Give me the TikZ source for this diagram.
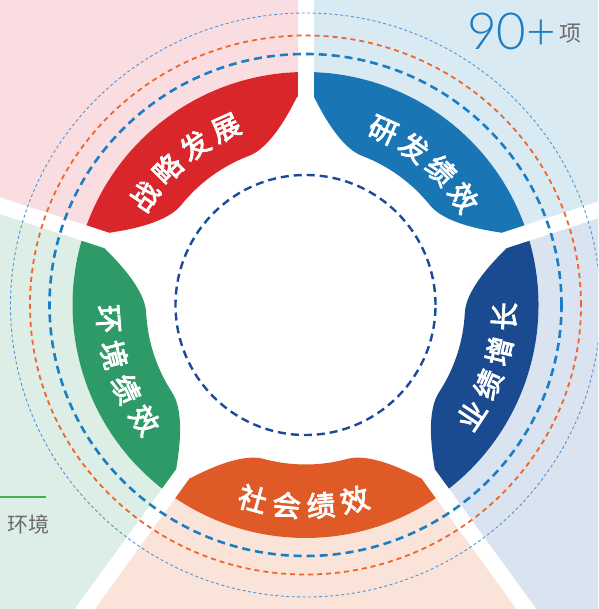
\documentclass[tikz,border=0pt]{standalone}
\usepackage{fontspec}
\newfontfamily\cjk{Noto Sans CJK SC}
\newfontfamily\cjkb{Noto Sans CJK SC}[FakeBold=3]
\newfontfamily\numfont{Lato}[UprightFont={* Light}]
\definecolor{cRed}{HTML}{D9262B}
\definecolor{cBlue}{HTML}{1A75B4}
\definecolor{cNavy}{HTML}{1A4A8F}
\definecolor{cOrange}{HTML}{E05A28}
\definecolor{cGreen}{HTML}{2E9A68}
\definecolor{bPink}{HTML}{F9DDE0}
\definecolor{bSky}{HTML}{D9EAF3}
\definecolor{bLav}{HTML}{DAE3F0}
\definecolor{bPeach}{HTML}{FAE4DA}
\definecolor{bMint}{HTML}{DCEEE6}
\definecolor{dBlue}{HTML}{1B7DC4}
\definecolor{dOrange}{HTML}{F0652A}
\definecolor{dLight}{HTML}{5096D4}
\definecolor{dNavy}{HTML}{1A4B9A}
\definecolor{tGray}{HTML}{6B6B6B}
\definecolor{lGreen}{HTML}{3DB54A}
\newcommand\mypetal[2]{%
  \fill[#2, rotate=#1] (-35.5:233) -- (-35.5:212) -- (-33.6:208)
    .. controls (-30.6:190) and (-23:160.5) .. (-15:159.5)
    arc[start angle=-15, end angle=15, radius=159.5]
    .. controls (23:160.5) and (30.6:190) .. (33.6:208)
    -- (35.5:212) -- (35.5:233) arc[start angle=35.5, end angle=-35.5, radius=233] -- cycle;}
\tikzset{
  lbl/.style={text=white, inner sep=0pt, font=\cjkb\fontsize{28.5}{28.5}\selectfont},
  ringblue/.style={draw=dBlue, line width=2.6pt, dash pattern=on 8pt off 5pt},
  ringorange/.style={draw=dOrange, line width=1.8pt, dash pattern=on 5pt off 4pt},
  ringlight/.style={draw=dLight, line width=0.9pt, dash pattern=on 3pt off 2.5pt},
  ringinner/.style={draw=dNavy, line width=2.4pt, dash pattern=on 8pt off 5pt},
  gapband/.style={draw=white, line width=16pt}
}
\begin{document}
\begin{tikzpicture}[x=1pt, y=1pt]
\useasboundingbox (0,0) rectangle (598,609);
\clip (0,0) rectangle (598,609);
\fill[white] (0,0) rectangle (598,609);
\begin{scope}[shift={(305.5,304)}]
  % background sectors
  \fill[bPink] (0,0) -- (90:900) arc[start angle=90, end angle=162, radius=900] -- cycle;
  \fill[bSky] (0,0) -- (18:900) arc[start angle=18, end angle=90, radius=900] -- cycle;
  \fill[bLav] (0,0) -- (-54:900) arc[start angle=-54, end angle=18, radius=900] -- cycle;
  \fill[bPeach] (0,0) -- (234:900) arc[start angle=234, end angle=306, radius=900] -- cycle;
  \fill[bMint] (0,0) -- (162:900) arc[start angle=162, end angle=234, radius=900] -- cycle;
  \fill[white] (0,0) circle[radius=233];
  % petals
  \mypetal{126}{cRed}
  \mypetal{54}{cBlue}
  \mypetal{-18}{cNavy}
  \mypetal{270}{cOrange}
  \mypetal{198}{cGreen}
  % gaps
  \foreach \a in {18,90,162,234,306} \draw[gapband] (0,0) -- (\a:900);
  % rings
  \draw[ringlight] (0,0) ellipse[x radius=295, y radius=292];
  \draw[ringorange] (0,0) ellipse[x radius=275.5, y radius=269.5];
  \draw[ringblue] (0,0) ellipse[x radius=256, y radius=251];
  \draw[ringinner] (0,0) circle[radius=130];
  % labels
  \node[lbl, rotate=56] (r1) at (146:194) {战};
  \node[lbl, rotate=45.4] (r2) at (135.4:194) {略};
  \node[lbl, rotate=34.8] (r3) at (124.8:194) {发};
  \node[lbl, rotate=24.2] (r4) at (114.2:194) {展};
  \node[lbl, rotate=-24] (b1) at (66:191) {研};
  \node[lbl, rotate=-34.6] (b2) at (55.4:191) {发};
  \node[lbl, rotate=-45.2] (b3) at (44.8:191) {绩};
  \node[lbl, rotate=-55.8] (b4) at (34.2:191) {效};
  \node[lbl, rotate=56.4] (n1) at (326.4:199) {业};
  \node[lbl, rotate=66.5] (n2) at (336.5:199) {绩};
  \node[lbl, rotate=76.6] (n3) at (346.6:199) {增};
  \node[lbl, rotate=86.7] (n4) at (356.7:199) {长};
  \node[lbl, rotate=-15.2] (o1) at (254.8:201) {社};
  \node[lbl, rotate=-5.4] (o2) at (264.6:201) {会};
  \node[lbl, rotate=4.4] (o3) at (274.4:201) {绩};
  \node[lbl, rotate=14.2] (o4) at (284.2:201) {效};
  \node[lbl, rotate=274.1] (g1) at (184.1:198) {环};
  \node[lbl, rotate=284.6] (g2) at (194.6:198) {境};
  \node[lbl, rotate=295.1] (g3) at (205.1:198) {绩};
  \node[lbl, rotate=305.6] (g4) at (215.6:198) {效};
\end{scope}
% corner texts
\node[anchor=base west, inner sep=0pt, text=dBlue, font=\numfont\fontsize{51}{51}\selectfont] (num) at (467,559) {90+};
\node[anchor=base west, inner sep=0pt, text=tGray, font=\cjk\fontsize{22}{22}\selectfont] (xiang) at (559,567) {项};
\draw[lGreen, line width=2pt] (0,111.5) coordinate (gl0) -- (46,111.5) coordinate (gl1);
\node[anchor=base west, inner sep=0pt, text=tGray, font=\cjk\fontsize{21}{21}\selectfont] (env) at (7,76) {环境};
\end{tikzpicture}
\end{document}
